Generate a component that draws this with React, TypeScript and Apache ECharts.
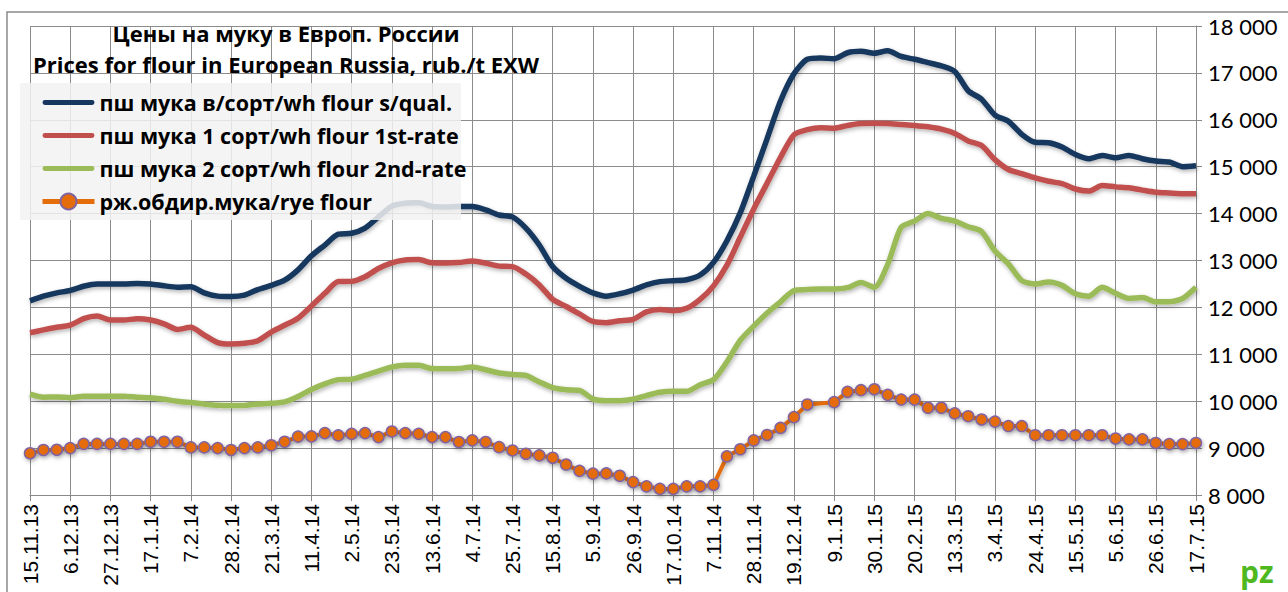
import React, { useEffect, useRef } from 'react';
import * as echarts from 'echarts';

const dates = [
  '15.11.13', '22.11.13', '29.11.13', '6.12.13', '13.12.13', '20.12.13', '27.12.13',
  '3.1.14', '10.1.14', '17.1.14', '24.1.14', '31.1.14', '7.2.14', '14.2.14', '21.2.14', '28.2.14',
  '7.3.14', '14.3.14', '21.3.14', '28.3.14', '4.4.14', '11.4.14', '18.4.14', '25.4.14', '2.5.14',
  '9.5.14', '16.5.14', '23.5.14', '30.5.14', '6.6.14', '13.6.14', '20.6.14', '27.6.14', '4.7.14',
  '11.7.14', '18.7.14', '25.7.14', '1.8.14', '8.8.14', '15.8.14', '22.8.14', '29.8.14', '5.9.14',
  '12.9.14', '19.9.14', '26.9.14', '3.10.14', '10.10.14', '17.10.14', '24.10.14', '31.10.14',
  '7.11.14', '14.11.14', '21.11.14', '28.11.14', '5.12.14', '12.12.14', '19.12.14', '26.12.14',
  '2.1.15', '9.1.15', '16.1.15', '23.1.15', '30.1.15', '6.2.15', '13.2.15', '20.2.15', '27.2.15',
  '6.3.15', '13.3.15', '20.3.15', '27.3.15', '3.4.15', '10.4.15', '17.4.15', '24.4.15', '1.5.15',
  '8.5.15', '15.5.15', '22.5.15', '29.5.15', '5.6.15', '12.6.15', '19.6.15', '26.6.15', '3.7.15',
  '10.7.15', '17.7.15',
];

const seriesNames = [
  'пш мука в/сорт/wh flour s/qual.',
  'пш мука 1 сорт/wh flour 1st-rate',
  'пш мука 2 сорт/wh flour 2nd-rate',
  'рж.обдир.мука/rye flour',
];

const premiumFlour = [
  12140, 12240, 12310, 12360, 12450, 12500, 12500, 12500, 12510, 12500,
  12460, 12430, 12440, 12310, 12240, 12230, 12260, 12380, 12470, 12580,
  12800, 13100, 13330, 13560, 13580, 13690, 13930, 14160, 14220, 14230,
  14150, 14140, 14150, 14150, 14080, 13970, 13930, 13690, 13330, 12870,
  12620, 12450, 12310, 12240, 12290, 12370, 12480, 12550, 12570, 12590,
  12690, 12960, 13420, 14020, 14800, 15600, 16400, 16980, 17290, 17320,
  17300, 17430, 17460, 17420, 17470, 17350, 17290, 17220, 17150, 17030,
  16620, 16440, 16100, 15970, 15690, 15520, 15510, 15420, 15260, 15170,
  15240, 15190, 15240, 15170, 15120, 15100, 15000, 15020,
];

const firstRateFlour = [
  11460, 11520, 11575, 11620, 11760, 11815, 11730, 11730, 11760, 11730,
  11650, 11530, 11575, 11410, 11250, 11220, 11235, 11290, 11475, 11620,
  11770, 12030, 12300, 12550, 12555, 12655, 12830, 12950, 13010, 13020,
  12950, 12945, 12955, 12990, 12945, 12880, 12870, 12710, 12480, 12170,
  12020, 11860, 11700, 11675, 11715, 11745, 11905, 11955, 11930, 11980,
  12170, 12460, 12900, 13500, 14100, 14650, 15200, 15680, 15790, 15830,
  15820, 15880, 15920, 15925, 15920, 15900, 15880, 15850, 15800, 15710,
  15550, 15450, 15150, 14940, 14850, 14760, 14690, 14640, 14525, 14480,
  14600, 14570, 14550, 14500, 14455, 14440, 14425, 14425,
];

const secondRateFlour = [
  10150, 10085, 10090, 10075, 10105, 10105, 10105, 10105, 10085, 10075,
  10040, 10000, 9970, 9940, 9915, 9910, 9910, 9940, 9955, 9985,
  10100, 10250, 10370, 10460, 10470, 10550, 10640, 10730, 10765, 10765,
  10695, 10690, 10695, 10730, 10670, 10600, 10570, 10550, 10410, 10290,
  10245, 10230, 10050, 10010, 10010, 10040, 10120, 10190, 10210, 10210,
  10350, 10460, 10840, 11300, 11600, 11880, 12120, 12360, 12380, 12390,
  12390, 12420, 12530, 12430, 12920, 13710, 13840, 14000, 13900, 13840,
  13720, 13620, 13200, 12930, 12570, 12500, 12540, 12470, 12290, 12240,
  12430, 12300, 12190, 12210, 12120, 12120, 12190, 12430,
];

const ryeFlour = [
  8890, 8960, 8965, 9000, 9090, 9090, 9090, 9090, 9090, 9135,
  9135, 9135, 9015, 9015, 9000, 8960, 9000, 9015, 9060, 9135,
  9245, 9250, 9320, 9270, 9305, 9320, 9235, 9355, 9320, 9305,
  9235, 9235, 9130, 9165, 9130, 9020, 8950, 8880, 8845, 8795,
  8650, 8515, 8455, 8460, 8410, 8275, 8185, 8130, 8130, 8185,
  8185, 8215, 8825, 8975, 9165, 9280, 9430, 9660, 9930, null,
  9980, 10200, 10235, 10255, 10135, 10035, 10035, 9860, 9860, 9740,
  9680, 9610, 9565, 9470, 9470, 9275, 9275, 9275, 9275, 9275,
  9275, 9205, 9185, 9185, 9110, 9085, 9085, 9110,
];

const titleLines = ['Цены на муку в Европ. России', 'Prices for flour in European Russia, rub./t EXW'];

const Y_MIN = 8000;
const Y_MAX = 18000;
const Y_STEP = 1000;

const colors = ['#17375E', '#C0504D', '#9BBB59', '#E46C0A'];

const LINE_ICON = 'path://M2,0 H50 A2.5,2.5 0 0 1 50,5 H2 A2.5,2.5 0 0 1 2,0 Z';

export default function App() {
  const ref = useRef<HTMLDivElement>(null);

  useEffect(() => {
    const chart = echarts.init(ref.current!, null, { renderer: 'svg' });
    const shadow = {
      shadowColor: 'rgba(0,0,0,0.3)',
      shadowBlur: 4,
      shadowOffsetX: 1,
      shadowOffsetY: 2,
    };
    const mainLine = (name: string, data: number[], color: string) => ({
      name,
      type: 'line',
      data,
      symbol: 'none',
      smooth: 0.25,
      lineStyle: { color, width: 5.5, ...shadow },
      itemStyle: { color },
      z: 2,
    });

    chart.setOption({
      animation: false,
      backgroundColor: '#ffffff',
      grid: { left: 30, right: 92, top: 26, bottom: 97, containLabel: false },
      graphic: [
        {
          type: 'rect',
          shape: { x: 7, y: 12, width: 1400, height: 700 },
          style: { fill: 'none', stroke: '#8a8a8a', lineWidth: 1.5 },
          z: 0,
          silent: true,
        },
        {
          type: 'rect',
          shape: { x: 20, y: 83, width: 441, height: 137 },
          style: { fill: 'rgba(242,242,242,0.85)' },
          z: 3,
          silent: true,
        },
        {
          type: 'text',
          x: 286,
          y: 33,
          style: {
            text: titleLines[0],
            textAlign: 'center',
            textVerticalAlign: 'middle',
            font: 'bold 22px "Open Sans"',
            fill: '#000',
          },
          z: 5,
        },
        {
          type: 'text',
          x: 286,
          y: 64,
          style: {
            text: titleLines[1],
            textAlign: 'center',
            textVerticalAlign: 'middle',
            font: 'bold 22px "Open Sans"',
            fill: '#000',
          },
          z: 5,
        },
        {
          type: 'text',
          x: 1240,
          y: 556,
          style: {
            text: 'pz',
            font: 'bold 30px "Open Sans"',
            fill: '#4fb81e',
          },
          z: 5,
        },
      ],
      legend: {
        orient: 'vertical',
        left: 30,
        top: 88,
        padding: [0, 0, 0, 10],
        itemWidth: 52,
        itemHeight: 20,
        itemGap: 4,
        data: [
          { name: seriesNames[0], icon: LINE_ICON },
          { name: seriesNames[1], icon: LINE_ICON },
          { name: seriesNames[2], icon: LINE_ICON },
          { name: seriesNames[3], lineStyle: { width: 5 } },
        ],
        textStyle: {
          fontFamily: 'Open Sans',
          fontWeight: 'bold',
          fontSize: 21.5,
          lineHeight: 29,
          color: '#000',
        },
        z: 6,
      },
      xAxis: {
        type: 'category',
        boundaryGap: false,
        data: dates,
        axisLine: { show: true, lineStyle: { color: '#888', width: 1 } },
        axisTick: { show: true, interval: 2, length: 6, lineStyle: { color: '#888' } },
        axisLabel: {
          interval: 2,
          rotate: 90,
          margin: 9,
          fontFamily: 'Liberation Sans',
          fontSize: 21,
          color: '#000',
        },
        splitLine: { show: true, interval: 2, lineStyle: { color: '#8c8c8c', width: 1 } },
      },
      yAxis: {
        type: 'value',
        position: 'right',
        min: Y_MIN,
        max: Y_MAX,
        interval: Y_STEP,
        axisLine: { show: true, lineStyle: { color: '#888', width: 1 } },
        axisTick: { show: true, length: 6, lineStyle: { color: '#888' } },
        axisLabel: {
          margin: 12,
          fontFamily: 'Lato',
          fontSize: 22,
          color: '#000',
          formatter: (v: number) => String(v).replace(/\B(?=(\d{3})+(?!\d))/g, ' '),
        },
        splitLine: { show: true, lineStyle: { color: '#8c8c8c', width: 1 } },
      },
      series: [
        mainLine(seriesNames[0], premiumFlour, colors[0]),
        mainLine(seriesNames[1], firstRateFlour, colors[1]),
        mainLine(seriesNames[2], secondRateFlour, colors[2]),
        {
          name: seriesNames[3],
          type: 'line',
          data: ryeFlour,
          connectNulls: true,
          symbol: 'circle',
          symbolSize: 11,
          showSymbol: true,
          showAllSymbol: true,
          lineStyle: { color: colors[3], width: 4, ...shadow },
          itemStyle: {
            color: colors[3],
            borderColor: '#8064A2',
            borderWidth: 1.5,
            ...shadow,
          },
          z: 3,
        },
      ],
    });
    return () => chart.dispose();
  }, []);

  return (
    <div
      ref={ref}
      style={{ position: 'absolute', left: 0, top: 0, width: 1288, height: 592, background: '#fff' }}
    />
  );
}
